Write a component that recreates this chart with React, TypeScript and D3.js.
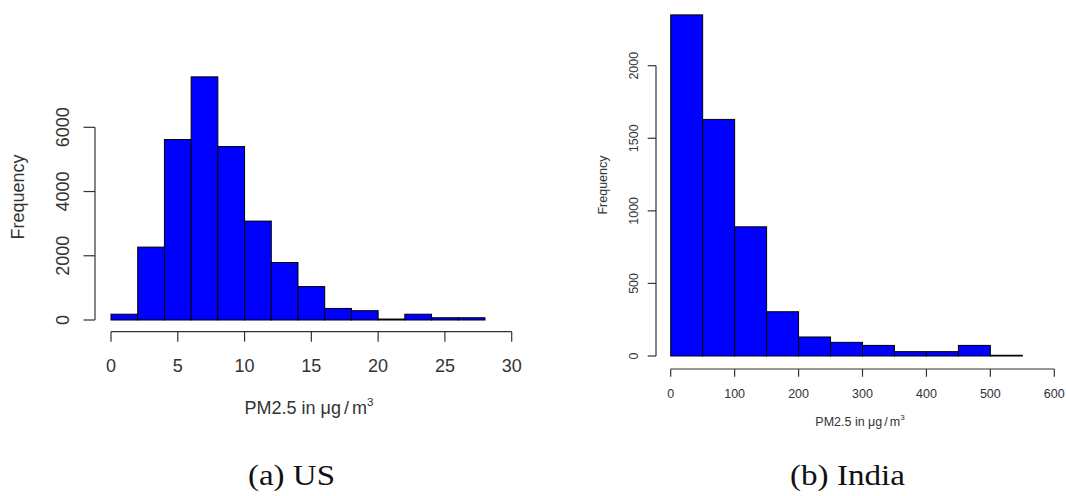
import React from "react";
import * as d3 from "d3";

// US histogram (PM2.5, bins of width 2)
const usBinStarts = [0, 2, 4, 6, 8, 10, 12, 14, 16, 18, 20, 22, 24, 26];
const usBinWidth = 2;
const usCounts = [180, 2270, 5620, 7570, 5400, 3080, 1790, 1040, 360, 290, 30, 180, 70, 70];
const usXTicks = [0, 5, 10, 15, 20, 25, 30];
const usYTicks = [0, 2000, 4000, 6000];

// India histogram (PM2.5, bins of width 50)
const inBinStarts = [0, 50, 100, 150, 200, 250, 300, 350, 400, 450, 500];
const inBinWidth = 50;
const inCounts = [2350, 1630, 890, 305, 131, 94, 73, 30, 30, 73, 5];
const inXTicks = [0, 100, 200, 300, 400, 500, 600];
const inYTicks = [0, 500, 1000, 1500, 2000];

const captions = ["(a) US", "(b) India"];

const SANS = "'Liberation Sans', Arial, Helvetica, sans-serif";
const SERIF = "'Liberation Serif', 'Times New Roman', serif";
const TXT = "#333";

type HistProps = {
  starts: number[];
  width: number;
  counts: number[];
  xTicks: number[];
  yTicks: number[];
  xRange: [number, number];
  yRange: [number, number];
  xAxisY: number;
  yAxisX: number;
  xTickLen: number;
  yTickLen: number;
  fontSize: number;
  xLabelY: number;
  yLabelX: number;
  titleX: number;
  titleY: number;
  freqX: number;
  freqY: number;
  slashGap: number;
};

function Hist(p: HistProps) {
  const x = d3
    .scaleLinear()
    .domain([p.xTicks[0], p.xTicks[p.xTicks.length - 1]])
    .range(p.xRange);
  const y = d3
    .scaleLinear()
    .domain([p.yTicks[0], p.yTicks[p.yTicks.length - 1]])
    .range(p.yRange);
  const fs = p.fontSize;
  return (
    <g>
      {p.starts.map((s, i) => (
        <rect
          key={i}
          x={x(s)}
          y={y(p.counts[i])}
          width={x(s + p.width) - x(s)}
          height={y(0) - y(p.counts[i])}
          fill="#0000ff"
          stroke="#000"
          strokeWidth={1}
        />
      ))}
      {/* x axis */}
      <line
        x1={x(p.xTicks[0])}
        x2={x(p.xTicks[p.xTicks.length - 1])}
        y1={p.xAxisY}
        y2={p.xAxisY}
        stroke={TXT}
        strokeWidth={1.2}
      />
      {p.xTicks.map((t) => (
        <g key={t}>
          <line
            x1={x(t)}
            x2={x(t)}
            y1={p.xAxisY}
            y2={p.xAxisY + p.xTickLen}
            stroke={TXT}
            strokeWidth={1.2}
          />
          <text
            x={x(t)}
            y={p.xLabelY}
            textAnchor="middle"
            fontFamily={SANS}
            fontSize={fs}
            fill={TXT}
          >
            {t}
          </text>
        </g>
      ))}
      {/* y axis */}
      <line
        x1={p.yAxisX}
        x2={p.yAxisX}
        y1={y(p.yTicks[0])}
        y2={y(p.yTicks[p.yTicks.length - 1])}
        stroke={TXT}
        strokeWidth={1.2}
      />
      {p.yTicks.map((t) => (
        <g key={t}>
          <line
            x1={p.yAxisX - p.yTickLen}
            x2={p.yAxisX}
            y1={y(t)}
            y2={y(t)}
            stroke={TXT}
            strokeWidth={1.2}
          />
          <text
            transform={`translate(${p.yLabelX},${y(t)}) rotate(-90)`}
            textAnchor="middle"
            fontFamily={SANS}
            fontSize={fs}
            fill={TXT}
          >
            {t}
          </text>
        </g>
      ))}
      <text
        transform={`translate(${p.freqX},${p.freqY}) rotate(-90)`}
        textAnchor="middle"
        fontFamily={SANS}
        fontSize={fs}
        fill={TXT}
      >
        Frequency
      </text>
      <text
        x={p.titleX}
        y={p.titleY}
        textAnchor="middle"
        fontFamily={SANS}
        fontSize={fs}
        fill={TXT}
      >
        <tspan>PM2.5 in μg</tspan>
        <tspan dx={p.slashGap}>/</tspan>
        <tspan dx={p.slashGap}>m</tspan>
        <tspan dy={-fs * 0.45} fontSize={fs * 0.65}>
          3
        </tspan>
      </text>
    </g>
  );
}

export default function App() {
  return (
    <svg
      width={1066}
      height={496}
      style={{ position: "absolute", left: 0, top: 0, background: "#fff" }}
    >
      <rect width={1066} height={496} fill="#fff" />
      <Hist
        starts={usBinStarts}
        width={usBinWidth}
        counts={usCounts}
        xTicks={usXTicks}
        yTicks={usYTicks}
        xRange={[111, 511.7]}
        yRange={[320, 127.3]}
        xAxisY={331.7}
        yAxisX={95}
        xTickLen={10}
        yTickLen={11.5}
        fontSize={18}
        xLabelY={371.5}
        yLabelX={68.5}
        titleX={309}
        titleY={414}
        freqX={23.5}
        freqY={197}
        slashGap={3}
      />
      <Hist
        starts={inBinStarts}
        width={inBinWidth}
        counts={inCounts}
        xTicks={inXTicks}
        yTicks={inYTicks}
        xRange={[670.7, 1054.3]}
        yRange={[356, 65.7]}
        xAxisY={369}
        yAxisX={656}
        xTickLen={7.7}
        yTickLen={8.3}
        fontSize={12.5}
        xLabelY={397.5}
        yLabelX={638}
        titleX={860}
        titleY={426}
        freqX={607}
        freqY={185}
        slashGap={2}
      />
      <text
        x={291.5}
        y={485}
        textAnchor="middle"
        fontFamily={SERIF}
        fontSize={29}
        fill="#111"
        textLength={87}
        lengthAdjust="spacingAndGlyphs"
      >
        {captions[0]}
      </text>
      <text
        x={847.5}
        y={485}
        textAnchor="middle"
        fontFamily={SERIF}
        fontSize={29}
        fill="#111"
        textLength={115}
        lengthAdjust="spacingAndGlyphs"
      >
        {captions[1]}
      </text>
    </svg>
  );
}
